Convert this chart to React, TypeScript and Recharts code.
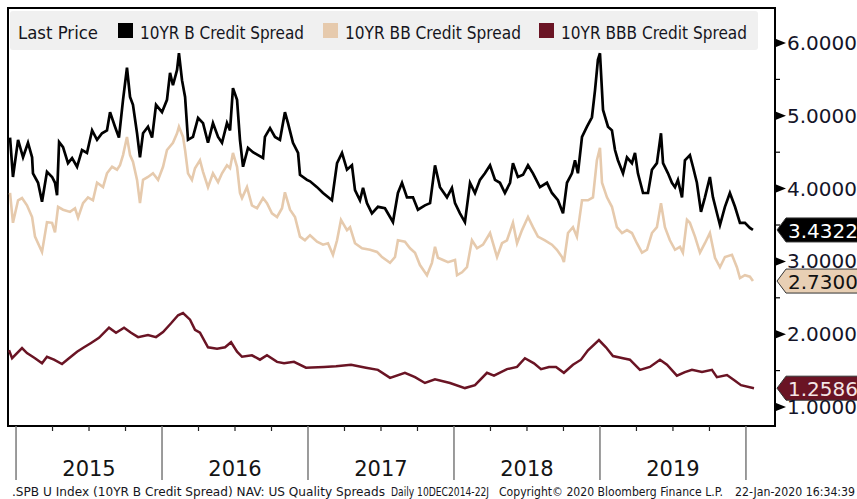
import React from "react";
import { LineChart, Line, XAxis, YAxis, ReferenceArea, ReferenceLine } from "recharts";

// dates are decimal years, values in %
const bDates = [
  2014.959, 2014.979, 2015.014, 2015.048, 2015.082, 2015.11, 2015.116, 2015.151, 2015.178, 2015.212, 2015.247, 2015.267,
  2015.281, 2015.295, 2015.322, 2015.356, 2015.384, 2015.418, 2015.452, 2015.486, 2015.521, 2015.555, 2015.589, 2015.623,
  2015.644, 2015.678, 2015.705, 2015.733, 2015.76, 2015.781, 2015.801, 2015.829, 2015.849, 2015.87, 2015.904, 2015.932,
  2015.959, 2016.0, 2016.034, 2016.055, 2016.075, 2016.103, 2016.116, 2016.137, 2016.158, 2016.178, 2016.212, 2016.247,
  2016.281, 2016.315, 2016.349, 2016.384, 2016.411, 2016.445, 2016.466, 2016.486, 2016.514, 2016.534, 2016.555, 2016.589,
  2016.623, 2016.658, 2016.692, 2016.705, 2016.74, 2016.774, 2016.808, 2016.842, 2016.863, 2016.897, 2016.932, 2016.945,
  2016.993, 2017.014, 2017.062, 2017.103, 2017.164, 2017.199, 2017.233, 2017.267, 2017.301, 2017.322, 2017.356, 2017.377,
  2017.404, 2017.438, 2017.479, 2017.527, 2017.562, 2017.582, 2017.616, 2017.644, 2017.678, 2017.719, 2017.753, 2017.801,
  2017.836, 2017.87, 2017.904, 2017.952, 2017.986, 2018.007, 2018.041, 2018.075, 2018.11, 2018.144, 2018.178, 2018.212,
  2018.247, 2018.281, 2018.315, 2018.349, 2018.384, 2018.404, 2018.438, 2018.473, 2018.507, 2018.541, 2018.589, 2018.637,
  2018.671, 2018.712, 2018.747, 2018.774, 2018.808, 2018.829, 2018.849, 2018.877, 2018.911, 2018.945, 2018.966, 2018.986,
  2019.0, 2019.021, 2019.055, 2019.082, 2019.103, 2019.123, 2019.158, 2019.185, 2019.219, 2019.24, 2019.26, 2019.295,
  2019.329, 2019.356, 2019.39, 2019.418, 2019.432, 2019.466, 2019.493, 2019.514, 2019.534, 2019.562, 2019.582, 2019.616,
  2019.637, 2019.664, 2019.692, 2019.719, 2019.753, 2019.774, 2019.808, 2019.822, 2019.856, 2019.89, 2019.925, 2019.959,
  2019.993, 2020.027, 2020.048,
];
const bSpread = [
  4.7, 4.16, 4.67, 4.43, 4.63, 4.43, 4.21, 4.08, 3.82, 4.23, 4.16, 4.08,
  3.91, 4.64, 4.57, 4.35, 4.42, 4.3, 4.53, 4.49, 4.8, 4.67, 4.76, 4.8,
  5.05, 4.85, 4.7, 5.22, 5.66, 5.26, 5.15, 4.76, 4.43, 4.76, 4.85, 4.7,
  5.15, 5.05, 5.22, 5.59, 5.42, 5.63, 5.86, 5.49, 5.26, 4.67, 4.71, 4.97,
  4.9, 4.63, 4.9, 4.71, 4.63, 4.9, 4.8, 5.38, 5.22, 4.67, 4.3, 4.56,
  4.5, 4.46, 4.42, 4.71, 4.83, 4.71, 4.67, 5.05, 4.9, 4.63, 4.49, 4.19,
  4.12, 4.1, 4.02, 3.94, 3.84, 4.35, 4.49, 4.26, 4.32, 3.98, 3.84, 4.01,
  3.8, 3.66, 3.75, 3.73, 3.61, 3.54, 3.94, 4.08, 3.88, 3.88, 3.71, 3.77,
  3.8, 4.32, 4.02, 3.88, 4.01, 3.8, 3.66, 3.54, 4.08, 3.94, 4.12, 4.21,
  4.32, 4.12, 4.08, 3.94, 4.08, 4.35, 4.16, 4.19, 4.32, 4.21, 4.02, 4.08,
  3.94, 3.84, 3.66, 4.08, 4.21, 4.39, 4.21, 4.71, 4.85, 4.98, 5.35, 5.77,
  5.86, 5.08, 4.85, 4.8, 4.53, 4.39, 4.21, 4.43, 4.35, 4.49, 4.21, 3.94,
  3.94, 4.26, 4.35, 4.76, 4.35, 4.21, 4.08, 4.02, 4.12, 3.88, 4.39, 4.46,
  4.3, 4.08, 3.68, 3.88, 4.16, 3.88, 3.61, 3.5, 3.75, 3.94, 3.75, 3.53,
  3.53, 3.46, 3.4322,
];

const bbDates = [
  2014.959, 2014.979, 2015.014, 2015.041, 2015.075, 2015.11, 2015.13, 2015.178, 2015.212, 2015.247, 2015.267, 2015.288,
  2015.322, 2015.37, 2015.404, 2015.425, 2015.459, 2015.493, 2015.527, 2015.555, 2015.596, 2015.623, 2015.658, 2015.692,
  2015.712, 2015.733, 2015.76, 2015.781, 2015.801, 2015.829, 2015.849, 2015.87, 2015.904, 2015.938, 2015.973, 2016.007,
  2016.034, 2016.075, 2016.103, 2016.116, 2016.144, 2016.158, 2016.178, 2016.205, 2016.226, 2016.26, 2016.281, 2016.315,
  2016.349, 2016.384, 2016.411, 2016.445, 2016.466, 2016.486, 2016.514, 2016.534, 2016.548, 2016.582, 2016.616, 2016.651,
  2016.692, 2016.719, 2016.753, 2016.788, 2016.822, 2016.842, 2016.877, 2016.911, 2016.945, 2016.979, 2017.014, 2017.062,
  2017.103, 2017.137, 2017.171, 2017.199, 2017.226, 2017.267, 2017.288, 2017.322, 2017.37, 2017.425, 2017.473, 2017.507,
  2017.562, 2017.596, 2017.616, 2017.664, 2017.699, 2017.733, 2017.767, 2017.815, 2017.849, 2017.87, 2017.89, 2017.925,
  2017.959, 2018.007, 2018.021, 2018.055, 2018.089, 2018.123, 2018.158, 2018.199, 2018.247, 2018.295, 2018.329, 2018.363,
  2018.404, 2018.432, 2018.466, 2018.507, 2018.541, 2018.575, 2018.623, 2018.671, 2018.705, 2018.74, 2018.753, 2018.781,
  2018.815, 2018.842, 2018.877, 2018.918, 2018.952, 2018.979, 2019.0, 2019.014, 2019.048, 2019.082, 2019.116, 2019.151,
  2019.185, 2019.219, 2019.253, 2019.288, 2019.322, 2019.356, 2019.39, 2019.418, 2019.445, 2019.479, 2019.514, 2019.548,
  2019.568, 2019.596, 2019.616, 2019.651, 2019.685, 2019.719, 2019.753, 2019.788, 2019.822, 2019.856, 2019.904, 2019.938,
  2019.959, 2019.993, 2020.027, 2020.048,
];
const bbSpread = [
  3.94, 3.53, 3.84, 3.87, 3.77, 3.61, 3.34, 3.13, 3.54, 3.53, 3.4, 3.75,
  3.71, 3.68, 3.73, 3.6, 3.8, 3.88, 3.84, 4.08, 4.02, 4.21, 4.3, 4.26,
  4.32, 4.46, 4.71, 4.46, 4.37, 4.12, 3.8, 4.12, 4.16, 4.21, 4.12, 4.3,
  4.53, 4.63, 4.76, 4.85, 4.71, 4.53, 4.21, 4.12, 4.28, 4.39, 4.23, 4.02,
  4.21, 4.09, 4.21, 4.32, 4.28, 4.49, 4.3, 3.94, 3.87, 4.02, 3.77, 3.73,
  3.87, 3.8, 3.66, 3.61, 3.73, 3.95, 3.71, 3.61, 3.34, 3.29, 3.36, 3.27,
  3.23, 3.25, 3.09, 3.29, 3.57, 3.43, 3.47, 3.25, 3.18, 3.16, 3.13, 3.06,
  2.98, 3.06, 3.29, 3.27, 3.18, 3.12, 2.95, 2.81, 2.98, 3.2, 3.05, 3.02,
  2.99, 3.02, 2.81, 2.85, 2.92, 3.29, 3.18, 3.23, 3.39, 3.06, 3.25, 3.29,
  3.53, 3.25, 3.43, 3.61, 3.47, 3.34, 3.29, 3.23, 3.16, 3.06, 2.99, 3.39,
  3.47, 3.34, 3.84, 3.84, 3.88, 4.39, 4.56, 4.08, 3.88, 3.75, 3.47, 3.39,
  3.43, 3.39, 3.25, 3.12, 3.16, 3.39, 3.47, 3.8, 3.47, 3.29, 3.16, 3.2,
  3.12, 3.57, 3.53, 3.34, 3.12, 3.25, 3.39, 3.05, 2.92, 3.06, 3.09, 2.92,
  2.77, 2.81, 2.79, 2.73,
];

const bbbDates = [
  2014.952, 2014.973, 2015.041, 2015.075, 2015.13, 2015.178, 2015.212, 2015.26, 2015.315, 2015.363, 2015.418, 2015.466,
  2015.514, 2015.568, 2015.637, 2015.685, 2015.74, 2015.788, 2015.836, 2015.904, 2015.959, 2016.007, 2016.062, 2016.11,
  2016.144, 2016.192, 2016.226, 2016.26, 2016.315, 2016.377, 2016.432, 2016.473, 2016.514, 2016.548, 2016.616, 2016.671,
  2016.719, 2016.788, 2016.836, 2016.904, 2016.986, 2017.11, 2017.192, 2017.295, 2017.397, 2017.479, 2017.562, 2017.664,
  2017.733, 2017.801, 2017.87, 2017.973, 2018.075, 2018.144, 2018.226, 2018.274, 2018.363, 2018.432, 2018.486, 2018.548,
  2018.596, 2018.651, 2018.699, 2018.753, 2018.815, 2018.87, 2018.918, 2018.993, 2019.041, 2019.089, 2019.158, 2019.205,
  2019.274, 2019.342, 2019.411, 2019.459, 2019.527, 2019.582, 2019.63, 2019.699, 2019.767, 2019.801, 2019.87, 2019.918,
  2019.966, 2020.055,
];
const bbbSpread = [
  1.78, 1.67, 1.81, 1.74, 1.67, 1.6, 1.69, 1.65, 1.59, 1.67, 1.76, 1.82,
  1.88, 1.95, 2.09, 2.02, 2.09, 2.02, 1.96, 1.99, 1.96, 2.03, 2.15, 2.26,
  2.29, 2.2, 2.06, 2.02, 1.82, 1.8, 1.82, 1.89, 1.76, 1.69, 1.71, 1.65,
  1.71, 1.62, 1.6, 1.62, 1.54, 1.55, 1.56, 1.58, 1.54, 1.51, 1.4, 1.47,
  1.41, 1.33, 1.38, 1.33, 1.26, 1.3, 1.47, 1.43, 1.52, 1.55, 1.67, 1.6,
  1.52, 1.55, 1.55, 1.47, 1.58, 1.65, 1.78, 1.92, 1.82, 1.7, 1.67, 1.65,
  1.51, 1.55, 1.65, 1.58, 1.43, 1.48, 1.51, 1.48, 1.51, 1.41, 1.44, 1.37,
  1.3, 1.2586,
];

const yTicks = [1, 1.5, 2, 2.5, 3, 3.5, 4, 4.5, 5, 5.5, 6];
const xTicks = [
  2015, 2015.25, 2015.5, 2015.75, 2016, 2016.25, 2016.5, 2016.75, 2017, 2017.25, 2017.5, 2017.75,
  2018, 2018.25, 2018.5, 2018.75, 2019, 2019.25, 2019.5, 2019.75, 2020,
];

const FONT = "'DejaVu Sans', sans-serif";
const B_COLOR = "#000000";
const BB_COLOR = "#e6caad";
const BBB_COLOR = "#6a1424";

const toRows = (dates: number[], vals: number[]) => dates.map((t, i) => ({ t, v: vals[i] }));

function YTick({ x, y, payload }: any) {
  const v = payload.value;
  if (v % 1 !== 0) return <line x1={x} x2={x + 5} y1={y} y2={y} stroke="#000" strokeWidth={1.2} />;
  return (
    <g>
      <polygon points={`${x + 1},${y - 4} ${x + 11},${y} ${x + 1},${y + 4}`} fill="#000" />
      <text x={x + 12} y={y} dominantBaseline="central" fontSize={20} fontFamily={FONT} fill="#141428">
        {v.toFixed(4)}
      </text>
    </g>
  );
}

function XTick({ x, y, payload }: any) {
  const v = payload.value;
  const frac = v - Math.floor(v);
  return (
    <g>
      {frac === 0 ? (
        <line x1={x} x2={x} y1={y} y2={y + 54} stroke="#7a7a7a" strokeWidth={1.5} />
      ) : (
        <line x1={x} x2={x} y1={y} y2={y + 5} stroke="#222" strokeWidth={1.2} />
      )}
      {frac === 0.5 && (
        <text x={x} y={y + 50} textAnchor="middle" fontSize={21} fontFamily={FONT} fill="#141414">
          {Math.floor(v)}
        </text>
      )}
    </g>
  );
}

function Tag({ viewBox, fill, color, text }: any) {
  const x0 = viewBox.x + viewBox.width;
  const y = viewBox.y;
  const h = 12;
  return (
    <g>
      <polygon
        points={`${x0 + 2},${y} ${x0 + 11},${y - h} ${x0 + 100},${y - h} ${x0 + 100},${y + h} ${x0 + 11},${y + h}`}
        fill={fill}
        stroke="#333"
        strokeWidth={1}
      />
      <text x={x0 + 13} y={y + 1} dominantBaseline="central" fontSize={20} fontFamily={FONT} fill={color}>
        {text}
      </text>
    </g>
  );
}

export default function App() {
  const xDomain = [2014.945, 2020.199];
  const yDomain = [0.739, 6.481];
  const lastB = bSpread[bSpread.length - 1];
  const lastBB = bbSpread[bbSpread.length - 1];
  const lastBBB = bbbSpread[bbbSpread.length - 1];
  return (
    <div style={{ position: "absolute", left: 0, top: 0, width: 857, height: 499, background: "#fff" }}>
      <LineChart width={857} height={499} margin={{ top: 8, right: 0, bottom: 0, left: 8 }}>
        <XAxis
          dataKey="t"
          type="number"
          domain={xDomain}
          allowDataOverflow
          ticks={xTicks}
          interval={0}
          height={73}
          axisLine={false}
          tickLine={false}
          tickSize={0}
          tickMargin={0}
          tick={<XTick />}
        />
        <YAxis
          orientation="right"
          type="number"
          domain={yDomain}
          allowDataOverflow
          ticks={yTicks}
          interval={0}
          width={82}
          axisLine={false}
          tickLine={false}
          tickSize={0}
          tickMargin={0}
          tick={<YTick />}
        />
        <ReferenceArea x1={xDomain[0]} x2={xDomain[1]} y1={yDomain[0]} y2={yDomain[1]} fill="none" stroke="#000" strokeWidth={2} />
        <Line data={toRows(bbbDates, bbbSpread)} dataKey="v" stroke={BBB_COLOR} strokeWidth={2.5} dot={false} isAnimationActive={false} />
        <Line data={toRows(bbDates, bbSpread)} dataKey="v" stroke={BB_COLOR} strokeWidth={2.6} dot={false} isAnimationActive={false} />
        <Line data={toRows(bDates, bSpread)} dataKey="v" stroke={B_COLOR} strokeWidth={2.7} dot={false} isAnimationActive={false} />
        <ReferenceLine y={lastB} stroke="none" label={(p: any) => <Tag viewBox={p.viewBox} fill="#000" color="#fff" text={lastB.toFixed(4)} />} />
        <ReferenceLine y={lastBB} stroke="none" label={(p: any) => <Tag viewBox={p.viewBox} fill="#e8cfb4" color="#111" text={lastBB.toFixed(4)} />} />
        <ReferenceLine y={lastBBB} stroke="none" label={(p: any) => <Tag viewBox={p.viewBox} fill={BBB_COLOR} color="#f4e6e6" text={lastBBB.toFixed(4)} />} />
      </LineChart>
      <svg width={857} height={499} style={{ position: "absolute", left: 0, top: 0, pointerEvents: "none" }}>
        <rect x={10} y={11} width={748} height={39} rx={3} fill="#f0f0f0" />
        <g fontFamily={FONT} fontSize={17.5} fill="#151520">
          <text x={18} y={39} textLength={80} lengthAdjust="spacingAndGlyphs">Last Price</text>
          <rect x={118} y={23} width={15} height={15} fill={B_COLOR} />
          <text x={140} y={39} textLength={164} lengthAdjust="spacingAndGlyphs">10YR B Credit Spread</text>
          <rect x={323} y={23} width={15} height={15} fill={BB_COLOR} />
          <text x={345} y={39} textLength={176} lengthAdjust="spacingAndGlyphs">10YR BB Credit Spread</text>
          <rect x={539} y={23} width={15} height={15} fill={BBB_COLOR} />
          <text x={561} y={39} textLength={186} lengthAdjust="spacingAndGlyphs">10YR BBB Credit Spread</text>
        </g>
        <g fontFamily={FONT} fontSize={11.5} fill="#151520">
          <text x={12} y={496} textLength={373} lengthAdjust="spacingAndGlyphs">.SPB U Index (10YR B Credit Spread) NAV: US Quality Spreads</text>
          <text x={391} y={496} textLength={98} lengthAdjust="spacingAndGlyphs">Daily 10DEC2014-22J</text>
          <text x={499} y={496} textLength={224} lengthAdjust="spacingAndGlyphs">Copyright© 2020 Bloomberg Finance L.P.</text>
          <text x={735} y={496} textLength={120} lengthAdjust="spacingAndGlyphs">22-Jan-2020 16:34:39</text>
        </g>
      </svg>
    </div>
  );
}
